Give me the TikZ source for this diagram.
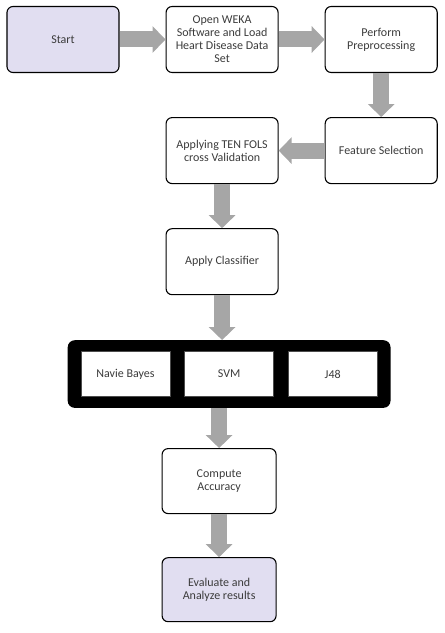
\documentclass[tikz,border=0pt]{standalone}
\usepackage{fontspec}
\setmainfont{Carlito}
\usetikzlibrary{positioning,fit,backgrounds,arrows.meta}
\definecolor{FlowLilac}{HTML}{E1DEF1}
\definecolor{FlowArrow}{HTML}{A6A6A6}
\definecolor{FlowText}{HTML}{3C3C3C}

\begin{document}
\begin{tikzpicture}[x=1bp,y=-1bp,
  node distance=44bp and 46bp,
  stage/.style={draw=black,fill=white,rounded corners=6bp,line width=1.1pt,
    minimum width=112bp,minimum height=66bp,align=center,text=FlowText,
    font=\fontsize{12bp}{13bp}\selectfont},
  endstage/.style={stage,fill=FlowLilac},
  algo/.style={draw=black!70,fill=white,line width=.6pt,minimum width=89bp,
    minimum height=45bp,text=FlowText,font=\fontsize{12bp}{13bp}\selectfont},
  flow/.style={draw=FlowArrow,line width=16bp,
    -{Triangle[width=26bp,length=13bp]}}
]
\useasboundingbox (0,0) rectangle (445,633);
% top row
\node[endstage] (start) at (63,39.5) {Start};
\node[stage,right=of start] (weka) {Open WEKA\\Software and Load\\Heart Disease Data\\Set};
\node[stage,right=of weka] (prep) {Perform\\Preprocessing};
% second row, right to left
\node[stage,below=of prep] (select) {Feature Selection};
\node[stage,left=of select] (tenfold) {Applying TEN FOLS\\cross Validation};
\node[stage,below=of tenfold] (classify) {Apply Classifier};
% the three classifiers
\node[algo,below=56bp of classify,xshift=7bp] (svm) {SVM};
\node[algo,left=14bp of svm] (bayes) {Navie Bayes};
\node[algo,right=14bp of svm] (jtree) {J48};
\begin{scope}[on background layer]
\node[fill=black,rounded corners=7bp,inner xsep=13bp,inner ysep=11bp,
  fit=(bayes)(svm)(jtree)] (models) {};
\end{scope}
\node[stage,below=40bp of models,xshift=-10bp,minimum width=114bp,minimum height=65bp] (accuracy) {Compute\\Accuracy};
\node[endstage,below=43bp of accuracy,minimum width=114bp,minimum height=64bp] (evaluate) {Evaluate and\\Analyze results};
% block arrows
\draw[flow] (start) -- (weka);
\draw[flow] (weka) -- (prep);
\draw[flow] (prep) -- (select);
\draw[flow] (select) -- (tenfold);
\draw[flow] (tenfold) -- (classify);
\draw[flow] (classify) -- (classify |- models.north);
\draw[flow] (accuracy |- models.south) -- (accuracy);
\draw[flow] (accuracy) -- (evaluate);
\end{tikzpicture}
\end{document}
